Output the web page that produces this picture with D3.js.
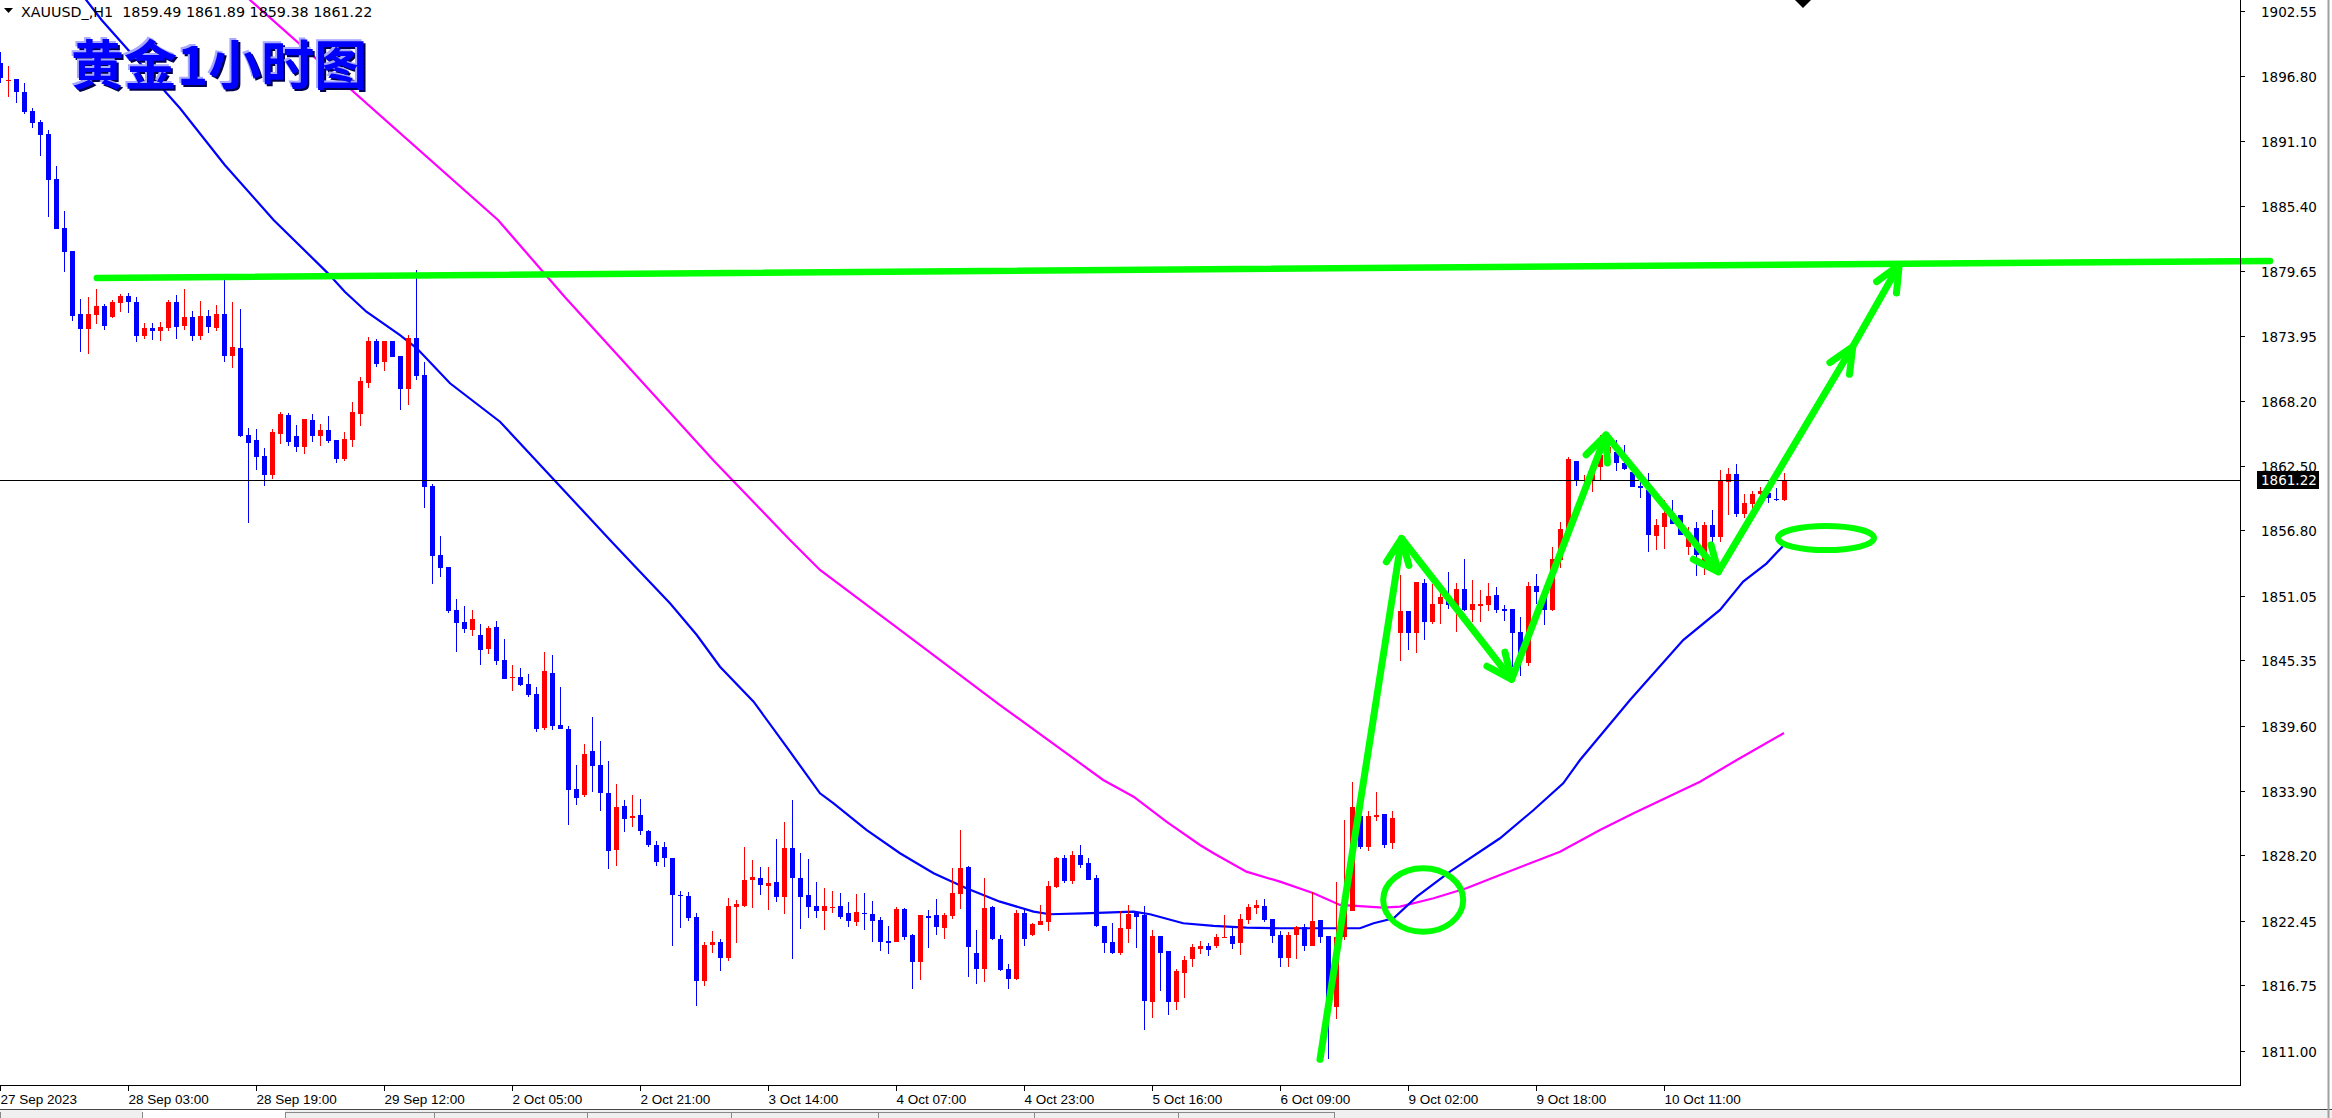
<!DOCTYPE html>
<html><head><meta charset="utf-8">
<script src="https://cdn.jsdelivr.net/npm/d3@7"></script>
<style>html,body{margin:0;padding:0;background:#fff;overflow:hidden}svg{display:block}</style>
</head><body>
<script>
// ---------- DATA ----------
const symbolHeader = "XAUUSD_,H1  1859.49 1861.89 1859.38 1861.22";
const titleText = "黄金1小时图";
const opens = [1897.92,1896.40,1896.51,1895.39,1893.72,1892.75,1891.70,1887.70,1883.42,1881.42,
1875.85,1874.56,1875.80,1876.56,1875.59,1876.85,1877.44,1876.91,1873.95,1874.62,
1874.39,1874.65,1876.91,1874.83,1875.59,1873.95,1875.68,1874.65,1875.85,1872.19,
1872.86,1865.20,1864.76,1863.38,1861.71,1865.32,1866.96,1865.12,1864.18,1866.52,
1865.15,1865.64,1864.76,1863.12,1864.79,1867.08,1869.81,1873.48,1871.66,1873.48,
1872.16,1869.28,1873.74,1870.49,1860.71,1854.64,1853.55,1849.80,1848.74,1848.06,
1847.59,1846.39,1848.30,1845.39,1843.85,1843.90,1843.28,1842.40,1839.44,1844.25,
1839.67,1839.32,1834.04,1833.54,1837.38,1836.15,1833.71,1828.70,1832.57,1831.55,
1831.75,1830.37,1829.14,1828.96,1827.99,1824.71,1824.65,1822.80,1817.17,1820.34,
1820.60,1819.19,1823.68,1823.77,1826.06,1826.23,1825.53,1825.88,1824.56,1828.87,
1826.23,1824.74,1823.77,1823.33,1823.60,1823.74,1823.12,1822.36,1823.15,1823.03,
1822.51,1820.65,1820.60,1823.50,1821.19,1818.84,1822.83,1822.95,1821.83,1822.89,
1824.82,1827.17,1819.63,1818.22,1823.68,1820.83,1818.19,1817.34,1823.15,1821.21,
1822.09,1822.36,1825.41,1827.93,1825.97,1828.23,1827.52,1826.20,1821.98,1820.57,
1819.63,1821.74,1823.24,1822.98,1815.32,1821.13,1819.78,1815.32,1817.87,1819.10,
1819.95,1820.22,1820.22,1821.00,1821.10,1820.48,1822.51,1823.56,1823.74,1822.59,
1821.19,1819.16,1821.19,1821.89,1820.22,1822.51,1821.10,1814.88,1821.04,1823.33,
1831.66,1828.90,1831.66,1831.81,1829.28,1847.80,1849.71,1847.80,1852.17,1848.77,
1850.35,1850.94,1849.79,1851.64,1849.79,1850.27,1850.24,1851.12,1849.88,1849.88,
1847.86,1845.10,1851.91,1851.47,1849.79,1854.20,1856.84,1862.91,1861.18,1861.24,
1862.41,1863.59,1863.73,1862.76,1861.97,1860.68,1860.36,1856.31,1857.10,1858.36,
1858.16,1855.37,1856.98,1853.61,1857.28,1856.25,1861.09,1861.77,1858.25,1859.12,
1860.01,1860.06,1859.59,1859.49];
const highs = [1898.94,1897.68,1896.51,1896.21,1893.95,1892.96,1892.08,1888.88,1884.92,1881.42,
1877.17,1877.35,1878.05,1876.74,1877.09,1877.62,1877.70,1877.35,1875.06,1875.06,
1875.15,1877.09,1877.53,1878.05,1876.12,1877.00,1876.21,1876.65,1878.85,1876.91,
1876.30,1865.82,1865.73,1864.06,1865.73,1867.23,1867.14,1866.08,1866.61,1867.05,
1866.17,1866.88,1864.76,1865.47,1868.11,1870.31,1873.83,1873.66,1873.48,1873.48,
1872.16,1874.01,1879.73,1871.63,1860.89,1856.31,1853.55,1850.73,1850.15,1849.80,
1848.56,1848.39,1848.83,1847.24,1844.93,1844.69,1844.16,1843.02,1846.10,1845.83,
1843.02,1839.58,1836.15,1838.00,1840.38,1838.26,1836.50,1834.48,1833.10,1833.54,
1833.19,1830.46,1829.49,1829.40,1827.99,1825.09,1825.00,1823.15,1820.60,1821.57,
1820.86,1824.47,1824.30,1828.96,1827.82,1827.20,1827.20,1829.67,1831.16,1833.10,
1828.43,1827.90,1825.88,1825.32,1825.06,1824.88,1824.09,1824.79,1824.88,1824.18,
1822.77,1822.01,1823.65,1823.59,1821.27,1822.95,1823.42,1824.38,1823.12,1827.08,
1830.43,1827.26,1821.66,1826.23,1823.77,1821.21,1818.66,1823.42,1823.50,1822.27,
1823.83,1825.97,1828.08,1828.26,1828.58,1829.11,1827.96,1826.47,1821.98,1822.24,
1823.27,1823.83,1823.24,1823.74,1821.63,1821.13,1819.78,1818.19,1819.31,1820.39,
1820.66,1820.48,1821.27,1822.95,1821.98,1823.04,1823.91,1824.27,1824.36,1822.59,
1821.54,1821.45,1821.98,1822.15,1824.97,1822.51,1821.10,1825.85,1831.31,1834.68,
1831.75,1832.10,1833.77,1831.81,1832.10,1852.88,1849.71,1852.26,1852.52,1852.08,
1851.99,1853.14,1852.17,1854.28,1852.44,1851.56,1852.17,1851.82,1850.23,1849.88,
1849.18,1852.26,1852.96,1851.47,1855.34,1857.54,1863.26,1862.91,1861.68,1862.41,
1865.20,1865.05,1864.76,1864.32,1862.12,1861.53,1861.83,1857.78,1859.48,1859.48,
1858.16,1857.13,1857.57,1857.51,1858.60,1862.12,1862.27,1862.65,1860.01,1860.24,
1860.65,1860.50,1860.50,1861.89];
const lows = [1896.16,1894.98,1894.39,1893.46,1892.25,1889.79,1884.36,1883.30,1879.58,1875.26,
1872.54,1872.36,1875.00,1874.48,1875.50,1876.06,1875.97,1873.42,1873.68,1873.60,
1873.51,1874.39,1873.68,1874.48,1873.51,1873.60,1874.21,1874.39,1871.66,1871.13,
1865.03,1857.49,1862.15,1860.74,1861.36,1864.44,1864.27,1863.74,1863.56,1864.62,
1864.27,1864.53,1862.77,1862.94,1864.18,1866.03,1869.37,1871.22,1870.87,1872.10,
1867.43,1867.87,1870.07,1858.81,1852.06,1852.73,1849.50,1846.13,1847.80,1847.54,
1844.98,1845.95,1844.98,1843.75,1842.69,1843.13,1842.17,1839.09,1839.26,1839.26,
1839.35,1830.90,1832.66,1833.36,1833.80,1832.13,1827.03,1827.29,1830.28,1830.72,
1830.02,1828.96,1827.29,1827.20,1820.25,1821.83,1822.45,1814.97,1816.73,1819.63,
1818.05,1818.93,1820.51,1823.68,1823.59,1824.74,1823.42,1824.12,1823.06,1819.10,
1821.74,1822.71,1822.71,1821.66,1823.15,1822.62,1821.92,1822.01,1821.66,1820.60,
1819.81,1819.54,1820.60,1820.77,1816.46,1817.25,1820.07,1821.21,1820.86,1822.62,
1823.50,1817.52,1816.90,1817.08,1820.77,1818.05,1816.46,1817.25,1820.25,1821.13,
1822.09,1821.57,1825.35,1825.79,1825.70,1827.08,1826.06,1821.92,1819.63,1819.54,
1819.45,1820.51,1820.07,1812.85,1813.91,1816.29,1814.17,1814.61,1815.67,1818.40,
1819.51,1819.34,1820.04,1820.92,1819.95,1819.42,1822.15,1823.04,1822.33,1820.48,
1818.37,1818.37,1819.07,1819.78,1820.22,1820.51,1810.24,1813.76,1820.74,1823.33,
1828.73,1828.61,1831.25,1828.84,1828.76,1845.33,1846.30,1846.04,1847.18,1848.59,
1848.59,1849.91,1847.89,1849.74,1848.77,1848.77,1849.71,1849.56,1848.86,1844.81,
1844.01,1844.89,1850.35,1848.50,1849.71,1853.50,1856.84,1860.71,1860.30,1860.21,
1861.15,1863.10,1862.03,1862.12,1860.62,1859.68,1854.93,1855.08,1855.19,1857.37,
1856.40,1854.64,1852.82,1852.88,1853.17,1855.81,1858.16,1858.01,1857.92,1858.30,
1859.50,1859.18,1859.40,1859.38];
const closes = [1896.60,1896.45,1895.36,1893.66,1892.69,1891.64,1887.67,1883.36,1881.34,1875.70,
1874.56,1875.85,1876.56,1874.83,1876.91,1877.44,1876.94,1873.95,1874.62,1874.39,
1874.71,1876.91,1874.74,1875.59,1873.95,1875.68,1874.74,1875.85,1872.19,1872.98,
1865.12,1864.53,1863.30,1861.71,1865.47,1867.05,1864.62,1864.18,1866.61,1865.15,
1865.64,1864.70,1863.12,1864.85,1867.23,1869.96,1873.48,1871.48,1873.48,1872.10,
1869.28,1873.74,1870.43,1860.65,1854.58,1853.52,1849.74,1848.68,1848.15,1849.00,
1846.30,1848.21,1845.34,1843.75,1843.90,1843.22,1842.34,1839.35,1844.42,1839.61,
1839.35,1833.98,1833.27,1837.12,1836.09,1833.71,1828.61,1832.48,1831.43,1831.65,
1830.37,1829.14,1827.64,1827.94,1824.74,1824.60,1822.71,1817.17,1820.34,1820.60,
1819.19,1823.77,1823.94,1826.06,1826.29,1825.62,1825.79,1824.56,1828.87,1826.23,
1824.56,1823.68,1823.33,1823.74,1823.65,1822.80,1822.45,1823.21,1823.10,1822.45,
1820.60,1820.60,1823.47,1821.04,1818.84,1822.95,1822.77,1821.92,1822.95,1824.88,
1827.08,1820.16,1818.22,1823.59,1820.86,1818.10,1817.34,1823.15,1820.86,1822.18,
1822.45,1825.50,1827.99,1825.97,1828.23,1827.35,1826.06,1821.98,1820.51,1819.63,
1821.80,1823.03,1822.80,1815.40,1821.13,1819.63,1815.32,1818.02,1818.99,1820.13,
1820.22,1819.87,1821.01,1821.04,1820.39,1822.59,1823.65,1823.83,1822.51,1821.10,
1819.16,1821.19,1821.89,1820.22,1822.42,1821.04,1815.61,1821.04,1823.40,1832.48,
1828.90,1831.66,1831.72,1829.11,1831.48,1849.71,1847.80,1852.26,1848.77,1850.32,
1850.94,1850.20,1851.64,1849.79,1850.32,1850.32,1851.03,1849.79,1849.85,1847.80,
1845.98,1851.91,1851.38,1849.79,1854.28,1856.92,1863.09,1861.15,1861.24,1862.41,
1863.44,1864.17,1862.76,1862.21,1860.65,1860.62,1856.40,1857.25,1858.33,1857.37,
1856.40,1856.40,1854.64,1857.28,1856.25,1861.18,1861.77,1858.25,1859.18,1860.01,
1860.27,1859.62,1859.56,1861.22];
const lastPrice = 1861.22;
// moving averages: [bar index, price]
const maBlueBars = [10,12.7,22.5,28.1,34.2,41,43.1,45.8,50,52.1,56.25,62.5,76.25,79.2,83.75,87.1,90,94.2,98.3,102.5,104.2,108.3,112.5,116.7,120.8,125,129.2,131.25,135.4,141.7,143.75,147.9,151.7,155.8,160,170,171.7,174.2,177.1,181.25,187.5,191.7,195.4,197.5,203.75,210.4,215,217.9,220.8,223];
const maBlueVals = [1904.20,1901.73,1893.96,1888.97,1884.13,1879.43,1877.81,1876.05,1874.00,1872.83,1869.75,1866.37,1855.96,1853.76,1850.38,1847.59,1844.80,1841.72,1837.76,1833.66,1832.78,1830.43,1828.38,1826.62,1825.30,1824.12,1823.24,1823.01,1823.09,1823.24,1823.01,1822.22,1821.98,1821.83,1821.78,1821.78,1822.22,1822.66,1824.56,1826.76,1829.70,1832.19,1834.54,1836.59,1841.87,1847.15,1849.80,1852.29,1853.88,1855.52];
const maMagBars = [30,31.25,62.25,70.6,89.25,98.75,102.5,112.5,125,137.9,141.7,145.8,150,151.7,155.8,160,164.2,167.5,172.9,175,179.2,183.3,187.5,195,200,204.2,212.5,217.1,223];
const maMagVals = [1904.60,1903.49,1884.13,1877.35,1862.91,1855.96,1853.32,1848.04,1841.43,1834.83,1833.36,1831.16,1829.11,1828.38,1826.76,1825.88,1824.86,1823.83,1823.59,1823.68,1824.42,1825.30,1826.47,1828.52,1830.43,1831.90,1834.68,1836.59,1838.97];
// axes
const priceTicks = [1902.55,1896.80,1891.10,1885.40,1879.65,1873.95,1868.20,1862.50,1856.80,1851.05,1845.35,1839.60,1833.90,1828.20,1822.45,1816.75,1811.00];
const timeTickBars = [0,16,32,48,64,80,96,112,128,144,160,176,192,208];
const timeTickLabels = ["27 Sep 2023","28 Sep 03:00","28 Sep 19:00","29 Sep 12:00","2 Oct 05:00","2 Oct 21:00","3 Oct 14:00","4 Oct 07:00","4 Oct 23:00","5 Oct 16:00","6 Oct 09:00","9 Oct 02:00","9 Oct 18:00","10 Oct 11:00"];
// hand-drawn annotations: [bar, price]
const trendLine = [[12.1,1879.02],[283.75,1880.52]];
const zigzag = [[165,1810.24],[175.2,1856.10],[188.96,1843.69],[200.75,1865.20],[214.8,1853.16],[231.6,1872.99],[237.4,1880.16]];
const ellipseCenters = [[177.9,1824.26],[228.25,1856.13]];
const ellipseRadii = [[5,2.79],[6,1.06]]; // [bars, price]

// ---------- LAYOUT ----------
const W = 2332, H = 1118;
const plotRight = 2240, plotBottom = 1085;
const x = d3.scaleLinear().domain([0,280]).range([0,2240]);
const y = d3.scaleLinear().domain([1811.00,1902.55]).range([1050.7,10.7]);

const svg = d3.select("body").append("svg").attr("width",W).attr("height",H)
  .style("font-family","'DejaVu Sans', Verdana, sans-serif");
svg.append("rect").attr("width",W).attr("height",H).attr("fill","#fff");
svg.append("clipPath").attr("id","plot").append("rect").attr("x",0).attr("y",0).attr("width",plotRight).attr("height",plotBottom);

const plot = svg.append("g").attr("clip-path","url(#plot)");

// title
const tg = svg.append("g").style("font-family","'Noto Sans CJK SC', sans-serif").style("font-weight","700").style("font-size","53px");
tg.append("text").attr("x",73).attr("y",87).attr("fill","#000050").text(titleText);
tg.append("text").attr("x",69).attr("y",83).attr("fill","#a8a8ff").text(titleText);
tg.append("text").attr("x",71).attr("y",85).attr("fill","#0000ff").text(titleText);

// moving averages
const line = d3.line().x(d=>x(d[0])).y(d=>y(d[1]));
plot.append("path").datum(maMagBars.map((b,i)=>[b,maMagVals[i]]))
  .attr("d",line).attr("fill","none").attr("stroke","#ff00ff").attr("stroke-width",2.2);
plot.append("path").datum(maBlueBars.map((b,i)=>[b,maBlueVals[i]]))
  .attr("d",line).attr("fill","none").attr("stroke","#0000ff").attr("stroke-width",2.2);

// candles
const bars = opens.map((o,i)=>({i,o,h:highs[i],l:lows[i],c:closes[i]}));
const cg = plot.append("g").attr("shape-rendering","crispEdges");
bars.forEach(b=>{
  const col = b.c >= b.o ? "#ff0000" : "#0000ff";
  const cx = Math.round(x(b.i));
  cg.append("rect").attr("x",cx).attr("width",1)
    .attr("y",y(b.h)).attr("height",Math.max(1,y(b.l)-y(b.h))).attr("fill",col);
  const top = y(Math.max(b.o,b.c)), bot = y(Math.min(b.o,b.c));
  cg.append("rect").attr("x",cx-2).attr("width",5)
    .attr("y",top).attr("height",Math.max(1.5,bot-top)).attr("fill",col);
});

// current price line
plot.append("line").attr("x1",0).attr("x2",plotRight).attr("y1",Math.round(y(lastPrice))+0.5).attr("y2",Math.round(y(lastPrice))+0.5)
  .attr("stroke","#000").attr("stroke-width",1);

// green annotations
const ann = svg.append("g").attr("fill","none").attr("stroke","#00ff00").attr("stroke-linecap","round").attr("stroke-linejoin","round");
ann.append("line").attr("x1",x(trendLine[0][0])).attr("y1",y(trendLine[0][1]))
  .attr("x2",x(trendLine[1][0])).attr("y2",y(trendLine[1][1])).attr("stroke-width",6.5);
ann.append("path").attr("d",line(zigzag)).attr("stroke-width",7);
for(let k=1;k<zigzag.length;k++){
  const tx=x(zigzag[k][0]), ty=y(zigzag[k][1]);
  const sx=x(zigzag[k-1][0]), sy=y(zigzag[k-1][1]);
  const ang=Math.atan2(sy-ty,sx-tx), L=28, a=0.42;
  const p1=[tx+L*Math.cos(ang+a), ty+L*Math.sin(ang+a)];
  const p2=[tx+L*Math.cos(ang-a), ty+L*Math.sin(ang-a)];
  ann.append("path").attr("d",`M${p1[0]},${p1[1]}L${tx},${ty}L${p2[0]},${p2[1]}`).attr("stroke-width",7);
}
ellipseCenters.forEach((c,i)=>{
  const rx = x(c[0]+ellipseRadii[i][0]) - x(c[0]);
  const ry = y(c[1]-ellipseRadii[i][1]) - y(c[1]);
  ann.append("ellipse").attr("cx",x(c[0])).attr("cy",y(c[1])).attr("rx",rx).attr("ry",ry).attr("stroke-width",6);
});

// right axis
const ax = svg.append("g").attr("shape-rendering","crispEdges");
ax.append("line").attr("x1",plotRight+0.5).attr("x2",plotRight+0.5).attr("y1",0).attr("y2",plotBottom).attr("stroke","#000");
priceTicks.forEach(p=>{
  const yy=Math.round(y(p))+0.5;
  ax.append("line").attr("x1",plotRight).attr("x2",plotRight+5).attr("y1",yy).attr("y2",yy).attr("stroke","#000");
  svg.append("text").attr("x",plotRight+21).attr("y",yy+5).attr("font-size","13.5px").attr("fill","#000").text(p.toFixed(2));
});
// last price box
const ly = Math.round(y(lastPrice));
svg.append("rect").attr("x",plotRight+17).attr("y",ly-9).attr("width",62).attr("height",18).attr("fill","#000");
svg.append("text").attr("x",plotRight+21).attr("y",ly+5).attr("font-size","13.5px").attr("fill","#fff").text(lastPrice.toFixed(2));

// bottom axis
ax.append("line").attr("x1",0).attr("x2",plotRight+1).attr("y1",plotBottom+0.5).attr("y2",plotBottom+0.5).attr("stroke","#000");
timeTickBars.forEach((b,i)=>{
  const xx=Math.round(x(b))+0.5;
  ax.append("line").attr("x1",xx).attr("x2",xx).attr("y1",plotBottom).attr("y2",plotBottom+6).attr("stroke","#000");
  svg.append("text").attr("x",xx).attr("y",plotBottom+19).attr("font-size","13.5px")
    .style("font-family","'Liberation Sans', Arial, sans-serif").attr("fill","#000").text(timeTickLabels[i]);
});

// header
svg.append("path").attr("d","M4,8L13,8L8.5,13Z").attr("fill","#000");
svg.append("text").attr("x",21).attr("y",17).attr("font-size","14.3px").attr("fill","#000").attr("xml:space","preserve").text(symbolHeader);
// partial marker at top
svg.append("path").attr("d","M1795,0L1811,0L1803,8Z").attr("fill","#000");

// bottom tab bar & window border
svg.append("rect").attr("x",0).attr("y",1110).attr("width",W).attr("height",8).attr("fill","#f0f0f0");
svg.append("line").attr("x1",0).attr("x2",W).attr("y1",1109.5).attr("y2",1109.5).attr("stroke","#444");
svg.append("rect").attr("x",142).attr("y",1110).attr("width",143).attr("height",8).attr("fill","#fff");
[0,142,285,434,587,731,878,1034,1178,1334].forEach(v=>{
  svg.append("line").attr("x1",v+0.5).attr("x2",v+0.5).attr("y1",1112).attr("y2",1118).attr("stroke","#888");
});
svg.append("line").attr("x1",285).attr("x2",1334).attr("y1",1112.5).attr("y2",1112.5).attr("stroke","#888");
svg.append("line").attr("x1",2328.5).attr("x2",2328.5).attr("y1",0).attr("y2",H).attr("stroke","#a0a0a0").attr("stroke-width",2);
</script>
</body></html>
